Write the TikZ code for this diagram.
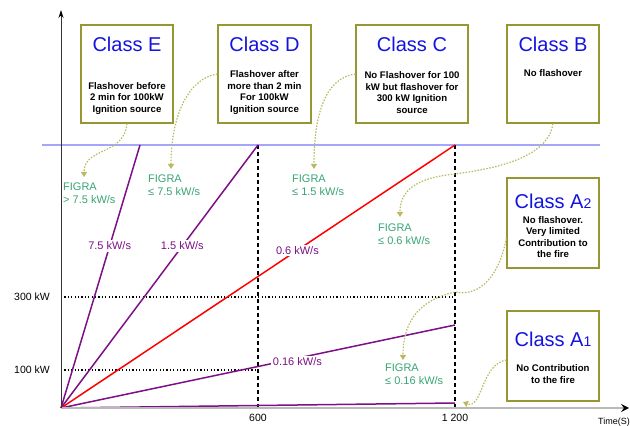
\documentclass[tikz,border=0pt]{standalone}
\usepackage{fontspec}
\setmainfont{Liberation Sans}
\usetikzlibrary{arrows.meta,positioning,calc}
\definecolor{clsblue}{RGB}{20,20,225}
\definecolor{boxolive}{RGB}{150,150,50}
\definecolor{linkkhaki}{RGB}{185,185,95}
\definecolor{ratepurple}{RGB}{125,15,135}
\definecolor{figragreen}{RGB}{55,165,115}
\definecolor{limitblue}{RGB}{165,165,250}

\begin{document}
\begin{tikzpicture}[
  x=1pt,y=1pt,
  clsbox/.style={draw=boxolive,line width=1.3pt,fill=white,minimum width=92pt,minimum height=98pt,inner sep=0pt},
  title/.style={text=clsblue,font=\fontsize{20}{22}\selectfont,inner sep=0pt},
  desc/.style={align=center,font=\bfseries\fontsize{9.6}{11.5}\selectfont,inner sep=0pt},
  figra/.style={anchor=north west,align=left,text=figragreen,font=\fontsize{11}{12.5}\selectfont,inner sep=0pt},
  rate/.style={fill=white,text=ratepurple,font=\fontsize{11}{12}\selectfont,inner sep=1.5pt},
  ratio/.style={ratepurple,line width=1.5pt},
  link/.style={linkkhaki,line width=1.2pt,dash pattern=on 1.5pt off 1.5pt,-{Triangle[length=5pt,width=6pt]}},
  tick/.style={font=\fontsize{10.5}{11}\selectfont,inner sep=0pt},
  guide/.style={black,line width=1.1pt}
  ]

  \useasboundingbox (0,0) rectangle (630,426);

  % axes and end points
  \coordinate (O) at (61,18);
  \coordinate (ytop) at (61,416);
  \coordinate (xend) at (629,18);
  \coordinate (t75) at (140,281);
  \coordinate (t15) at (258,281);
  \coordinate (t06) at (455,281);
  \coordinate (t016) at (455,101);
  \coordinate (t0) at (455,23);

  % flashover limit
  \draw[limitblue,line width=1.3pt] (42,281) -- (600,281);

  % ticks and guide lines
  \node[tick] (l300) at (32,129) {300 kW};
  \node[tick] (l100) at (32,56) {100 kW};
  \node[tick] (x600) at (258,8) {600};
  \node[tick] (x1200) at (455,8) {1 200};
  \node[tick,anchor=base east,font=\fontsize{9}{10}\selectfont] (tlab) at (630,1.5) {Time(S)};

  \draw[guide,dash pattern=on 1.2pt off 2.2pt] (O |- l300) -- (t06 |- l300);
  \draw[guide,dash pattern=on 1.2pt off 2.2pt] (O |- l100) -- (t15 |- l100);
  \draw[guide,dash pattern=on 4pt off 3pt] (t15) -- (t15 |- O);
  \draw[guide,dash pattern=on 4pt off 3pt] (t06) -- (t06 |- O);

  % growth rates
  \draw[ratio] (O) -- node[rate,pos=0.616] {7.5 kW/s} (t75);
  \draw[ratio] (O) -- node[rate,pos=0.616] {1.5 kW/s} (t15);
  \draw[ratio,red] (O) -- node[rate,pos=0.6] {0.6 kW/s} (t06);
  \draw[ratio] (O) -- node[rate,pos=0.6,yshift=-3pt] {0.16 kW/s} (t016);
  \draw[ratio] (O) -- (t0);

  \draw[gray!55,line width=2pt,-{Stealth[black,length=8pt,width=8pt,inset=3pt]}] (O) -- (xend);
  \draw[black!80,line width=0.8pt,-{Stealth[black,length=8pt,width=5pt]}] (O) -- (ytop);

  % classes
  \node[clsbox] (bE) at (127,352) {};
  \node[title] (tE) at ([yshift=-20pt]bE.north) {Class E};
  \node[desc] (dE) at ([yshift=-74pt]bE.north) {Flashover before\\2 min for 100kW\\Ignition source};

  \node[clsbox,minimum width=93pt] (bD) at (264.5,352) {};
  \node[title] (tD) at ([yshift=-20pt]bD.north) {Class D};
  \node[desc] (dD) at ([yshift=-68pt]bD.north) {Flashover after\\more than 2 min\\For 100kW\\Ignition source};

  \node[clsbox,minimum width=112pt] (bC) at (412,352) {};
  \node[title] (tC) at ([yshift=-20pt]bC.north) {Class C};
  \node[desc] (dC) at ([yshift=-68pt]bC.north) {No Flashover for 100\\kW but flashover for\\300 kW Ignition\\source};

  \node[clsbox] (bB) at (553,352) {};
  \node[title] (tB) at ([yshift=-20pt]bB.north) {Class B};
  \node[desc] (dB) at ([yshift=-49pt]bB.north) {No flashover};

  \node[clsbox,minimum height=90pt] (bA2) at (553,203) {};
  \node[title] (tA2) at ([yshift=-24pt]bA2.north) {Class A{\fontsize{14}{14}\selectfont 2}};
  \node[desc] (dA2) at ([yshift=-59.5pt]bA2.north) {No flashover.\\Very limited\\Contribution to\\the fire};

  \node[clsbox,minimum height=90pt] (bA1) at (553,70) {};
  \node[title] (tA1) at ([yshift=-29pt]bA1.north) {Class A{\fontsize{14}{14}\selectfont 1}};
  \node[desc] (dA1) at ([yshift=-63.5pt]bA1.north) {No Contribution\\to the fire};

  % FIGRA limits
  \node[figra] (fE) at (63,243) {FIGRA\\> 7.5 kW/s};
  \node[figra] (fD) at (148,251) {FIGRA\\≤ 7.5 kW/s};
  \node[figra] (fC) at (292,251) {FIGRA\\≤ 1.5 kW/s};
  \node[figra] (fB) at (378,202) {FIGRA\\≤ 0.6 kW/s};
  \node[figra] (fA2) at (385,62) {FIGRA\\≤ 0.16 kW/s};

  \coordinate (mB) at (455,252);
  \coordinate (mA2) at (455,134);
  \coordinate (tA1end) at (463,24);

  \draw[link] (bE.south) .. controls +(-3,-32) and +(0,30) .. ($(fE.north west)+(21,6)$);
  \draw[link] (bD.west) .. controls +(-28,-4) and +(0,55) .. ($(fD.north west)+(23,6)$);
  \draw[link] (bC.west) .. controls +(-30,-4) and +(0,55) .. ($(fC.north west)+(22,6)$);
  \draw[link] (bB.south) .. controls +(-5,-33) and +(45,6) .. (mB)
    .. controls +(-40,-4) and +(0,26) .. ($(fB.north west)+(22,7)$);
  \draw[link] ([yshift=-15pt]bA2.west) .. controls +(-7,-38) and +(25,-5) .. (mA2)
    .. controls +(-40,-9) and +(0,34) .. ($(fA2.north west)+(18,4)$);
  \draw[link] ([yshift=-4pt]bA1.west) .. controls +(-25,-4) and +(19,-8) .. (tA1end);

\end{tikzpicture}
\end{document}
